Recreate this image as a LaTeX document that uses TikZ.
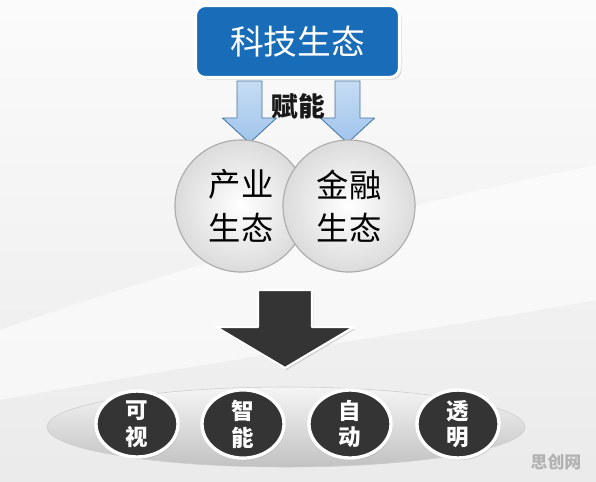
\documentclass[tikz,border=0pt]{standalone}
\usepackage{fontspec}
\setmainfont{Noto Sans CJK SC}
\usetikzlibrary{positioning,shadows,shapes.geometric}
\definecolor{techblue}{RGB}{24,108,184}
\definecolor{arrowblue}{RGB}{160,196,236}
\definecolor{darkfill}{RGB}{52,52,52}

\begin{document}
\begin{tikzpicture}[x=0.025cm, y=-0.025cm, line join=round]
\tikzset{
  techbox/.style={rectangle, rounded corners=7pt, fill=techblue, draw=white,
    line width=2.2pt, minimum width=5.1cm, minimum height=1.8cm,
    text=white, font=\fontsize{24}{26}\selectfont,
    drop shadow={shadow xshift=1.5pt, shadow yshift=-1.5pt, fill=gray!60}},
  eco/.style={circle, draw=gray!65, line width=0.8pt, inner color=white,
    outer color=gray!28, minimum size=3.3cm, align=center,
    font=\fontsize{23}{31}\selectfont},
  goal/.style={ellipse, fill=darkfill, draw=white, line width=2.4pt,
    minimum width=2.05cm, minimum height=1.4cm, inner sep=0pt, align=center,
    text=white, font=\bfseries\fontsize{16}{19}\selectfont,
    drop shadow={shadow xshift=1pt, shadow yshift=-1.5pt, fill=gray!70}},
  bluearrow/.style={top color=arrowblue!60, bottom color=arrowblue,
    draw=techblue!60!gray, line width=0.6pt}
}
% background
\shade[top color=gray!3, bottom color=gray!16] (0,0) rectangle (596,481);
\fill[white, opacity=0.55] (0,330) .. controls (200,260) and (420,200) .. (596,165)
  -- (596,300) .. controls (430,330) and (220,360) .. (0,400) -- cycle;
\useasboundingbox (0,0) rectangle (596,481);
% top box
\node[techbox] (tech) at (297.5,41.5) {科技生态};
% two blue arrows
\foreach \cx in {249.5,347.5}
  \draw[bluearrow] (\cx-12.5,81) -- (\cx+12.5,81) -- (\cx+12.5,118) -- (\cx+27,118)
    -- (\cx,143) -- (\cx-27,118) -- (\cx-12.5,118) -- cycle;
\node[font=\bfseries\fontsize{19}{22}\selectfont, text=gray!20!black] (enable) at (298,106) {赋能};
% two circles
\node[eco] (industry) at (241,206) {产业\\生态};
\node[eco] (finance) at (349,206) {金融\\生态};
% big dark arrow
\draw[fill=darkfill, draw=white, line width=1.6pt,
  drop shadow={shadow xshift=1pt, shadow yshift=-1.5pt, fill=gray!60}]
  (258,290) -- (312,290) -- (312,327) -- (354,327) -- (285,368) -- (216,327)
  -- (258,327) -- cycle;
% platform
\shade[top color=gray!8, bottom color=gray!48, draw=gray!40, line width=0.4pt]
  (286,427) ellipse (239 and 40);
% four goals
\node[goal] (visible) at (137,424) {可\\视};
\node[goal] (smart) at (243,424) {智\\能};
\node[goal] (auto) at (350,424) {自\\动};
\node[goal] (clear) at (458,424) {透\\明};
% watermark
\node[font=\bfseries\fontsize{12}{14}\selectfont, text=gray!60] (mark) at (556,462) {思创网};
\end{tikzpicture}
\end{document}
